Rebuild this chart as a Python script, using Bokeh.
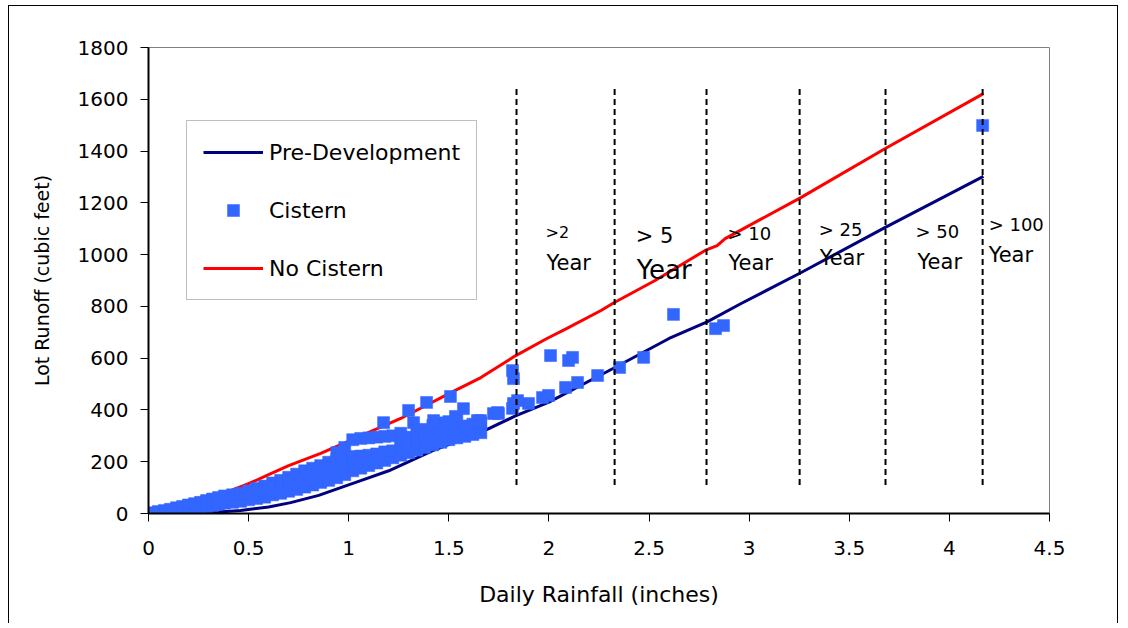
from bokeh.plotting import figure
from bokeh.models import (Range1d, FixedTicker, NumeralTickFormatter, Legend,
                          LegendItem, ColumnDataSource)
from bokeh.core.properties import value
from bokeh.embed import file_html
from bokeh.resources import INLINE

# ---------------- data ----------------
pre_x = [0.15, 0.25, 0.35, 0.46, 0.60, 0.71, 0.85, 0.96, 1.06, 1.20, 1.42,
         1.66, 1.83, 2.00, 2.32, 2.60, 2.79, 2.96, 3.26, 3.68, 4.17]
pre_y = [0, 2, 6, 12, 25, 42, 70, 100, 127, 165, 243,
         313, 376, 430, 560, 676, 740, 811, 931, 1105, 1302]

nocist_x = [0.03, 0.10, 0.20, 0.30, 0.40, 0.50, 0.60, 0.70, 0.86, 1.00, 1.26,
            1.51, 1.66, 1.83, 1.99, 2.09, 2.26, 2.32, 2.53, 2.78, 2.84, 2.88,
            3.26, 3.68, 4.17]
nocist_y = [0, 10, 30, 55, 85, 115, 150, 185, 232, 280, 367,
            467, 525, 608, 676, 715, 784, 812, 900, 1016, 1035, 1062,
            1221, 1410, 1622]

cistern_x = [
    0.02,
    0.05, 0.05,
    0.08, 0.08,
    0.11, 0.11,
    0.14, 0.14,
    0.17, 0.17,
    0.20, 0.20,
    0.23, 0.23,
    0.26, 0.26,
    0.29, 0.29,
    0.32, 0.32,
    0.35, 0.35,
    0.38, 0.38,
    0.42, 0.42,
    0.46, 0.46,
    0.50, 0.50, 0.50,
    0.54, 0.54, 0.54,
    0.58, 0.58, 0.58,
    0.62, 0.62, 0.62,
    0.66, 0.66, 0.66,
    0.70, 0.70, 0.70,
    0.74, 0.74, 0.74,
    0.78, 0.78, 0.78,
    0.82, 0.82, 0.82,
    0.86, 0.86, 0.86,
    0.90, 0.90, 0.90,
    0.94, 0.94, 0.94, 0.94,
    0.98, 0.98, 0.98, 0.98,
    1.02, 1.02, 1.02, 1.02,
    1.06, 1.06, 1.06, 1.06,
    1.10, 1.10, 1.10, 1.10,
    1.14, 1.14, 1.14, 1.14,
    1.18, 1.18, 1.18, 1.18,
    1.22, 1.22, 1.22,
    1.26, 1.26, 1.26, 1.26,
    1.30, 1.30, 1.30,
    1.34, 1.34, 1.34,
    1.38, 1.38, 1.38,
    1.42, 1.42, 1.42,
    1.46, 1.46, 1.46,
    1.50, 1.50, 1.50,
    1.54, 1.54, 1.54,
    1.58, 1.58,
    1.62, 1.62,
    1.66, 1.66,
    1.174, 1.299, 1.389, 1.508, 1.573, 1.533, 1.424, 1.324, 1.643, 1.658,
    1.743, 1.723, 1.748, 1.818, 1.823, 1.818, 1.843, 1.823, 1.898, 1.968,
    1.998, 2.008, 2.098, 2.118, 2.083, 2.143, 2.243, 2.353, 2.473, 2.622,
    2.832, 2.872, 4.166,
]
cistern_y = [
    3,
    3, 8,
    4, 12,
    5, 16,
    6, 22,
    8, 27,
    12, 33,
    17, 38,
    22, 43,
    27, 50,
    31, 56,
    37, 62,
    40, 68,
    43, 72,
    47, 78,
    53, 70, 87,
    58, 77, 97,
    63, 85, 106,
    72, 95, 118,
    78, 102, 128,
    86, 112, 140,
    93, 122, 152,
    102, 132, 165,
    110, 142, 175,
    120, 150, 185,
    128, 160, 198,
    138, 170, 205, 235,
    150, 180, 215, 255,
    165, 192, 220, 285,
    175, 200, 222, 290,
    185, 210, 225, 292,
    195, 218, 230, 295,
    205, 225, 238, 298,
    215, 242, 300,
    225, 252, 285, 310,
    235, 262, 295,
    245, 272, 310,
    255, 285, 325,
    265, 298, 340,
    275, 310, 350,
    285, 320, 355,
    292, 330, 360,
    298, 338,
    305, 345,
    312, 350,
    351, 398, 429, 452, 405, 375, 359, 351, 359, 359,
    390, 386, 386, 552, 521, 406, 436, 425, 425, 448,
    456, 610, 591, 603, 487, 506, 533, 564, 603, 769,
    714, 726, 1499,
]

return_x = [1.838, 2.328, 2.787, 3.252, 3.681, 4.166]
return_y0 = [110, 110, 110, 110, 110, 110]
return_y1 = [1645, 1645, 1645, 1645, 1645, 1645]

label_top = [">2", "> 5", "> 10", "> 25", "> 50", "> 100"]
label_bottom = ["Year", "Year", "Year", "Year", "Year", "Year"]

x_ticks = [0, 0.5, 1, 1.5, 2, 2.5, 3, 3.5, 4, 4.5]
y_ticks = [0, 200, 400, 600, 800, 1000, 1200, 1400, 1600, 1800]

# ---------------- layout of the labels (positions, sizes) ----------------
top_pos_x = [1.983, 2.433, 2.892, 3.347, 3.831, 4.196]
top_pos_y = [1085, 1070, 1081, 1097, 1089, 1116]
top_size = ["16px", "21px", "18px", "18px", "18px", "18px"]
bot_pos_x = [1.988, 2.438, 2.897, 3.352, 3.841, 4.196]
bot_pos_y = [969, 942, 969, 985, 973, 1000]
bot_size = ["21px", "26px", "21px", "21px", "21px", "21px"]

FONT = "DejaVu Sans"

p = figure(width=1110, height=618, x_range=Range1d(0, 4.5), y_range=Range1d(0, 1800),
           output_backend="svg", toolbar_location=None,
           min_border_left=139, min_border_right=70, min_border_top=41,
           min_border_bottom=111)
p.styles = {"margin-left": "8px", "margin-top": "5px",
            "border-left": "1px solid #000", "border-top": "1px solid #000",
            "border-right": "1px solid #000"}
p.background_fill_color = "white"
p.border_fill_color = "white"
p.outline_line_color = "#808080"
p.outline_line_width = 1
p.xgrid.visible = False
p.ygrid.visible = False

r_pre = p.line(pre_x, pre_y, line_color="#000080", line_width=3)
r_no = p.line(nocist_x, nocist_y, line_color="#FF0000", line_width=3)
r_cis = p.scatter(cistern_x, cistern_y, marker="square", size=12,
                  fill_color="#3366FF", line_color="#3366FF", line_width=0.5)

p.segment(x0=return_x, y0=return_y0, x1=return_x, y1=return_y1,
          line_color="black", line_width=2, line_dash="6 4")

src_top = ColumnDataSource(dict(x=top_pos_x, y=top_pos_y, t=label_top, s=top_size))
src_bot = ColumnDataSource(dict(x=bot_pos_x, y=bot_pos_y, t=label_bottom, s=bot_size))
p.text(x="x", y="y", text="t", text_font_size="s", source=src_top,
       text_font=value(FONT), text_color="black", text_baseline="alphabetic",
       text_align="left")
p.text(x="x", y="y", text="t", text_font_size="s", source=src_bot,
       text_font=value(FONT), text_color="black", text_baseline="alphabetic",
       text_align="left")

for ax in (p.xaxis[0], p.yaxis[0]):
    ax.axis_line_color = "black"
    ax.axis_line_width = 2
    ax.major_tick_line_color = "black"
    ax.major_tick_line_width = 1
    ax.major_tick_out = 8
    ax.major_tick_in = 0
    ax.minor_tick_line_color = None
    ax.major_label_text_font = FONT
    ax.major_label_text_font_size = "20px"
    ax.major_label_text_color = "black"
    ax.axis_label_text_font = FONT
    ax.axis_label_text_font_style = "normal"
    ax.axis_label_text_color = "black"

p.xaxis.ticker = FixedTicker(ticks=x_ticks)
p.xaxis.formatter = NumeralTickFormatter(format="0.[0]")
p.yaxis.ticker = FixedTicker(ticks=y_ticks)
p.xaxis.axis_label = "Daily Rainfall (inches)"
p.yaxis.axis_label = "Lot Runoff (cubic feet)"
p.xaxis.axis_label_text_font_size = "22px"
p.yaxis.axis_label_text_font_size = "19px"
p.xaxis.major_label_standoff = 19
p.yaxis.major_label_standoff = 12
p.xaxis.axis_label_standoff = 24
p.yaxis.axis_label_standoff = 22

legend = Legend(items=[
    LegendItem(label="Pre-Development", renderers=[r_pre]),
    LegendItem(label="Cistern", renderers=[r_cis]),
    LegendItem(label="No Cistern", renderers=[r_no]),
], location=(38, 213))
legend.glyph_width = 60
legend.glyph_height = 30
legend.label_height = 30
legend.spacing = 28
legend.padding = 16
legend.margin = 0
legend.label_standoff = 6
legend.label_text_font = FONT
legend.label_text_font_size = "22px"
legend.label_text_color = "black"
legend.border_line_color = "#808080"
legend.border_line_width = 1
legend.background_fill_color = "white"
legend.background_fill_alpha = 1
p.add_layout(legend, "center")

open("out.html", "w").write(file_html(p, INLINE))
